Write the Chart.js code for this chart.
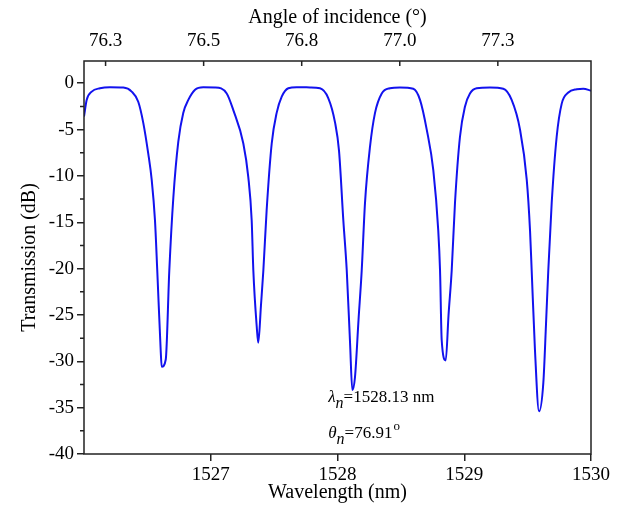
<!DOCTYPE html>
<html>
<head>
<meta charset="utf-8">
<script src="https://cdn.jsdelivr.net/npm/chart.js@4/dist/chart.umd.min.js"></script>
<style>
  body { margin: 0; background: #fff; }
  canvas { display: block; }
</style>
</head>
<body>
<canvas id="canvas" width="622" height="508"></canvas>
<script>
// wavelength (nm), one row per period
let wavelength = [
  1526.000, 1526.021, 1526.061, 1526.126, 1526.205, 1526.310, 1526.376, 1526.428, 1526.468, 1526.507,
  1526.534, 1526.560, 1526.578, 1526.605, 1526.613, 1526.645, 1526.673, 1526.705, 1526.744, 1526.783,
  1526.823, 1526.876, 1526.941,
  1527.034, 1527.126, 1527.178, 1527.257, 1527.296, 1527.323, 1527.336, 1527.363, 1527.375, 1527.396,
  1527.415, 1527.441, 1527.481, 1527.520, 1527.560, 1527.612, 1527.678,
  1527.783, 1527.862, 1527.927, 1527.980, 1528.012, 1528.046, 1528.073, 1528.099, 1528.117, 1528.138,
  1528.166, 1528.191, 1528.217, 1528.256, 1528.296, 1528.349, 1528.414, 1528.493,
  1528.598, 1528.651, 1528.704, 1528.756, 1528.795, 1528.809, 1528.822, 1528.854, 1528.876, 1528.901,
  1528.927, 1528.966, 1529.006, 1529.045, 1529.098, 1529.203,
  1529.308, 1529.374, 1529.440, 1529.493, 1529.519, 1529.532, 1529.558, 1529.590, 1529.624, 1529.645,
  1529.663, 1529.690, 1529.729, 1529.769, 1529.821, 1529.887, 1529.939, 1530.000
];
// transmission (dB)
let transmission = [
  -3.6, -1.8, -0.9, -0.54, -0.43, -0.47, -0.9, -2.0, -4.3, -7.6,
  -10.4, -14.8, -20.2, -28.8, -30.6, -29.8, -20.2, -12.3, -6.3, -3.2,
  -1.8, -0.7, -0.43,
  -0.45, -1.1, -2.9, -6.5, -10.1, -14.8, -20.2, -26.3, -28.0, -24.0,
  -20.2, -13.7, -6.5, -3.2, -1.45, -0.54, -0.43,
  -0.45, -0.54, -1.6, -4.2, -7.3, -14.8, -20.2, -28.0, -33.1, -31.7,
  -25.5, -20.2, -12.9, -6.9, -3.2, -1.1, -0.54, -0.45,
  -0.6, -1.8, -5.0, -9.4, -15.9, -20.2, -27.7, -29.9, -25.0, -20.2,
  -12.9, -5.8, -2.5, -1.1, -0.54, -0.45,
  -0.6, -1.8, -5.0, -10.4, -15.9, -20.2, -28.8, -35.4, -32.3, -26.0,
  -20.2, -12.9, -5.8, -2.2, -1.0, -0.65, -0.6, -0.8
];

let wlMin = 1526, wlMax = 1530;
let wlTicks = [1527, 1528, 1529, 1530];
let angleMin = 76.195, angleMax = 77.4875;
let angleTicks = [76.25, 76.5, 76.75, 77.0, 77.25];
let angleLabels = ['76.3', '76.5', '76.8', '77.0', '77.3'];
let yMin = -40, yMax = 2.4;
let yTicks = [0, -5, -10, -15, -20, -25, -30, -35, -40];
let yMinorTicks = [-2.5, -7.5, -12.5, -17.5, -22.5, -27.5, -32.5, -37.5];

// annotation: [symbol, subscript, rest, superscript, wavelength pos, dB pos]
let notes = [
  ['λ', 'n', '=1528.13 nm', '', 1527.927, -34.35],
  ['θ', 'n', '=76.91', 'o', 1527.927, -38.3]
];

const serif = '"Liberation Serif", "Times New Roman", serif';
const ink = '#222';

let points = [];
for (let i = 0; i < wavelength.length; i++) {
  points.push({x: wavelength[i], y: transmission[i]});
}

const frameAndNotes = {
  id: 'frameAndNotes',
  afterDraw(chart) {
    const ctx = chart.ctx;
    const a = chart.chartArea;
    const sx = chart.scales.x, sy = chart.scales.y, st = chart.scales.x2;
    ctx.save();
    ctx.strokeStyle = ink;
    ctx.lineWidth = 1.5;
    ctx.strokeRect(a.left, a.top, a.right - a.left, a.bottom - a.top);
    ctx.beginPath();
    yMinorTicks.forEach(v => {
      let y = sy.getPixelForValue(v);
      ctx.moveTo(a.left - 4, y);
      ctx.lineTo(a.left, y);
    });
    angleTicks.forEach(v => {
      let x = st.getPixelForValue(v);
      ctx.moveTo(x, a.top);
      ctx.lineTo(x, a.top + 5);
    });
    ctx.stroke();

    ctx.fillStyle = '#000';
    ctx.textBaseline = 'alphabetic';
    ctx.textAlign = 'left';
    notes.forEach(n => {
      let x = sx.getPixelForValue(n[4]);
      let y = sy.getPixelForValue(n[5]);
      ctx.font = 'italic 17px ' + serif;
      ctx.fillText(n[0], x, y);
      x += ctx.measureText(n[0]).width;
      ctx.font = 'italic 16px ' + serif;
      ctx.fillText(n[1], x, y + 6);
      x += ctx.measureText(n[1]).width;
      ctx.font = '17px ' + serif;
      ctx.fillText(n[2], x, y);
      x += ctx.measureText(n[2]).width;
      if (n[3]) {
        ctx.font = '13px ' + serif;
        ctx.fillText(n[3], x + 1, y - 8);
      }
    });
    ctx.restore();
  }
};

let options = {
  type: 'line',
  data: {
    datasets: [{
      data: points,
      borderColor: '#1212ee',
      borderWidth: 2,
      pointRadius: 0,
      fill: false,
      cubicInterpolationMode: 'monotone'
    }]
  },
  options: {
    responsive: false,
    animation: false,
    layout: { padding: { left: 0, right: 31, top: 0, bottom: 0 } },
    plugins: { legend: { display: false }, tooltip: { enabled: false } },
    scales: {
      x: {
        type: 'linear', position: 'bottom', min: wlMin, max: wlMax,
        afterBuildTicks: s => { s.ticks = wlTicks.map(v => ({value: v})); },
        afterFit: s => { s.height = 54; },
        grid: { drawOnChartArea: false, color: ink, lineWidth: 1.5, tickLength: 7 },
        border: { display: false },
        ticks: { color: '#000', font: { family: serif, size: 19 }, padding: 3, maxRotation: 0, callback: v => String(v) },
        title: { display: true, text: 'Wavelength (nm)', color: '#000', font: { family: serif, size: 20 }, padding: { top: 0, bottom: 3 } }
      },
      x2: {
        type: 'linear', position: 'top', min: angleMin, max: angleMax,
        afterBuildTicks: s => { s.ticks = angleTicks.map(v => ({value: v})); },
        afterFit: s => { s.height = 61; },
        grid: { drawOnChartArea: false, drawTicks: false },
        border: { display: false },
        ticks: { color: '#000', font: { family: serif, size: 19 }, padding: 9, maxRotation: 0, callback: (v, i) => angleLabels[i] },
        title: { display: true, text: 'Angle of incidence (°)', color: '#000', font: { family: serif, size: 20 }, padding: { top: 6, bottom: 0 } }
      },
      y: {
        min: yMin, max: yMax,
        afterBuildTicks: s => { s.ticks = yTicks.map(v => ({value: v})); },
        afterFit: s => { s.width = 84; },
        grid: { drawOnChartArea: false, color: ink, lineWidth: 1.5, tickLength: 7 },
        border: { display: false },
        ticks: { color: '#000', font: { family: serif, size: 19 }, padding: 3, callback: v => String(v) },
        title: { display: true, text: 'Transmission (dB)', color: '#000', font: { family: serif, size: 20 }, padding: { top: 18, bottom: 0 } }
      }
    }
  },
  plugins: [frameAndNotes]
};

let chart = new Chart(document.getElementById('canvas'), options);
</script>
</body>
</html>
